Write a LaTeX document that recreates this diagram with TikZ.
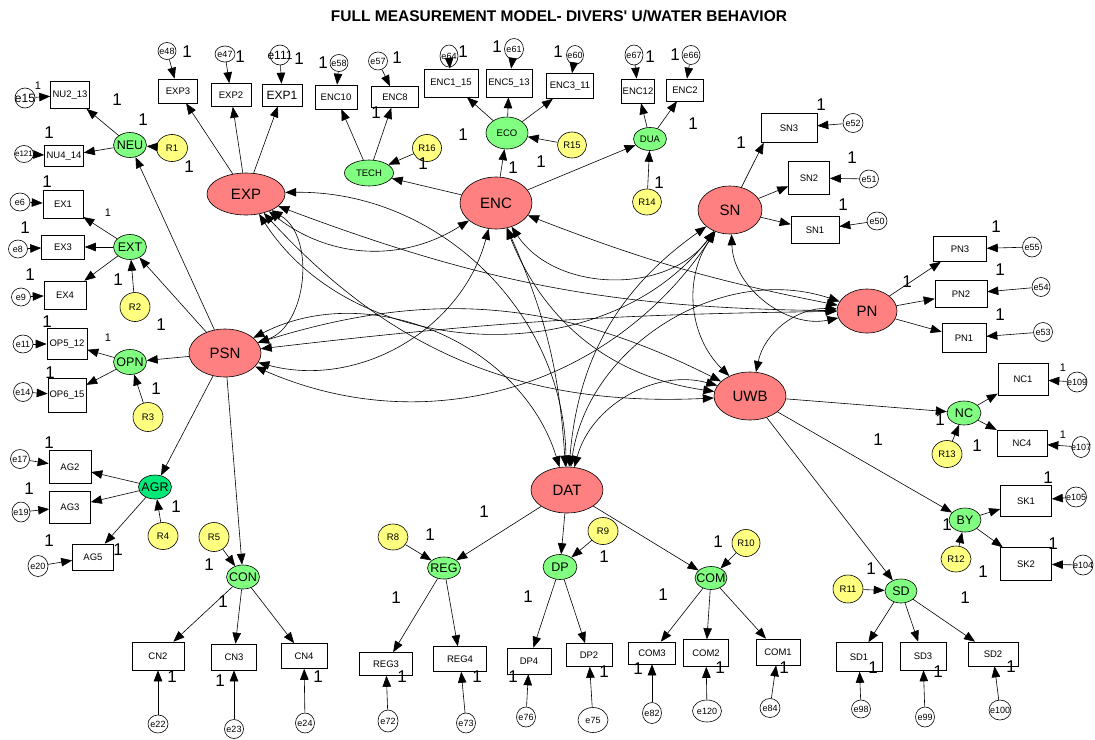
\documentclass[tikz,border=0pt]{standalone}
\usepackage{fontspec}
\setmainfont{Liberation Sans}
\usetikzlibrary{shapes.geometric,arrows.meta}
\definecolor{latc}{RGB}{255,128,128}
\definecolor{facc}{RGB}{128,255,128}
\definecolor{facd}{RGB}{0,232,120}
\definecolor{resc}{RGB}{255,255,128}
\newcommand\fz[1]{\fontsize{#1}{#1}\selectfont}
% shape node + centred text that never resizes the shape
\newcommand\nd[8]{%
  \node[#1,minimum width=#5pt,minimum height=#6pt] (#2) at (#3,-#4) {};
  \node[inner sep=0pt,#7] at (#2) {#8};}
\newcommand\fixone[2]{\node[one] at (#1,-#2) {1};}
\newcommand\fixones[2]{\node[ones] at (#1,-#2) {1};}
\tikzset{
  base/.style={draw,line width=0.6pt,inner sep=0pt},
  lat/.style={base,ellipse,fill=latc},
  fac/.style={base,ellipse,fill=facc},
  facd/.style={base,ellipse,fill=facd},
  res/.style={base,ellipse,fill=resc},
  err/.style={base,ellipse,fill=white},
  obs/.style={base,rectangle,fill=white},
  tlat/.style={font=\fz{15}},
  tfac/.style={font=\fz{12.5}},
  tfs/.style={font=\fz{9.5}},
  tres/.style={font=\fz{9.5}},
  terr/.style={font=\fz{9}},
  tobs/.style={font=\fz{9.5}},
  tbig/.style={font=\fz{12}},
  one/.style={inner sep=0pt,font=\fz{17}},
  ones/.style={inner sep=0pt,font=\fz{11}},
  tip/.tip={Triangle[length=11pt,width=8.5pt]},
  arr/.style={-tip,line width=0.6pt},
  cov/.style={tip-tip,line width=0.6pt},
}
\begin{document}
\begin{tikzpicture}[x=1pt,y=1pt]
\useasboundingbox (0,0) rectangle (1095,-739);
\node[font=\bfseries\fz{15.5}] (title) at (559,-16) {FULL MEASUREMENT MODEL- DIVERS\textquotesingle{} U/WATER BEHAVIOR};

% ---------- second-order constructs
\nd{lat}{EXP}{246}{194}{78}{42}{tlat}{EXP}
\nd{lat}{ENC}{496}{203}{72}{52}{tlat}{ENC}
\nd{lat}{SN}{730}{210}{64}{48}{tlat}{SN}
\nd{lat}{PN}{867}{311}{60}{44}{tlat}{PN}
\nd{lat}{PSN}{225}{353}{72}{48}{tlat}{PSN}
\nd{lat}{UWB}{750}{396}{72}{48}{tlat}{UWB}
\nd{lat}{DAT}{567}{490}{72}{46}{tlat}{DAT}

% ---------- first-order factors
\nd{fac}{NEU}{130}{145}{33}{25}{tfac}{NEU}
\nd{fac}{EXT}{130}{247}{33}{25}{tfac}{EXT}
\nd{fac}{OPN}{130}{362}{33}{25}{tfac}{OPN}
\nd{facd}{AGR}{155}{487}{33}{24}{tfac}{AGR}
\nd{fac}{CON}{243}{577}{33}{24}{tfac}{CON}
\nd{fac}{TECH}{369}{173}{49}{26}{tfs}{TECH}
\nd{fac}{ECO}{507}{133}{42}{32}{tfs}{ECO}
\nd{fac}{DUA}{650}{139}{33}{23}{tfs}{DUA}
\nd{fac}{NC}{964}{413}{34}{24}{tfac}{NC}
\nd{fac}{BY}{965}{520}{32}{24}{tfac}{BY}
\nd{fac}{SD}{901}{591}{32}{24}{tfac}{SD}
\nd{fac}{REG}{444}{568}{33}{22}{tfac}{REG}
\nd{fac}{DP}{560}{567}{34}{25}{tfac}{DP}
\nd{fac}{COM}{711}{578}{32}{23}{tfac}{COM}

% ---------- residuals
\nd{res}{R1}{172}{148}{31}{27}{tres}{R1}
\nd{res}{R2}{135}{307}{30}{29}{tres}{R2}
\nd{res}{R3}{148}{417}{30}{29}{tres}{R3}
\nd{res}{R4}{163}{536}{30}{27}{tres}{R4}
\nd{res}{R5}{214}{537}{30}{29}{tres}{R5}
\nd{res}{R16}{427}{148}{29}{27}{tres}{R16}
\nd{res}{R15}{572}{145}{29}{26}{tres}{R15}
\nd{res}{R14}{647}{202}{29}{26}{tres}{R14}
\nd{res}{R13}{947}{454}{30}{27}{tres}{R13}
\nd{res}{R12}{956}{559}{30}{26}{tres}{R12}
\nd{res}{R11}{848}{589}{30}{28}{tres}{R11}
\nd{res}{R8}{393}{537}{30}{26}{tres}{R8}
\nd{res}{R9}{603}{531}{30}{27}{tres}{R9}
\nd{res}{R10}{746}{543}{28}{27}{tres}{R10}

% ---------- observed items
\nd{obs}{NUa}{70}{95}{39}{27}{tobs}{NU2\_13}
\nd{obs}{NUb}{64}{156}{39}{21}{tobs}{NU4\_14}
\nd{obs}{EXa}{63}{204}{40}{28}{tobs}{EX1}
\nd{obs}{EXc}{63}{247}{43}{24}{tobs}{EX3}
\nd{obs}{EXd}{65}{295}{42}{28}{tobs}{EX4}
\nd{obs}{OPa}{67}{344}{40}{31}{tobs}{OP5\_12}
\nd{obs}{OPb}{67}{395}{38}{34}{tobs}{OP6\_15}
\nd{obs}{AGb}{70}{467}{42}{33}{tobs}{AG2}
\nd{obs}{AGc}{70}{507}{41}{32}{tobs}{AG3}
\nd{obs}{AGe}{93}{557}{41}{26}{tobs}{AG5}
\nd{obs}{CNb}{158}{656}{52}{28}{tobs}{CN2}
\nd{obs}{CNc}{234}{657}{45}{26}{tobs}{CN3}
\nd{obs}{CNd}{304}{656}{46}{25}{tobs}{CN4}
\nd{obs}{EXPc}{178}{91}{39}{24}{tobs}{EXP3}
\nd{obs}{EXPb}{231}{95}{40}{23}{tobs}{EXP2}
\nd{obs}{EXPa}{282}{95}{40}{22}{tbig}{EXP1}
\nd{obs}{ENCj}{336}{97}{42}{24}{tobs}{ENC10}
\nd{obs}{ENCh}{395}{97}{47}{21}{tobs}{ENC8}
\nd{obs}{ENCa}{451}{83}{54}{28}{tobs}{ENC1\_15}
\nd{obs}{ENCe}{509}{83}{46}{28}{tobs}{ENC5\_13}
\nd{obs}{ENCc}{570}{86}{47}{25}{tobs}{ENC3\_11}
\nd{obs}{ENCl}{638}{91}{33}{24}{tobs}{ENC12}
\nd{obs}{ENCb}{685}{90}{37}{22}{tobs}{ENC2}
\nd{obs}{SNc}{789}{128}{56}{29}{tobs}{SN3}
\nd{obs}{SNb}{809}{178}{41}{33}{tobs}{SN2}
\nd{obs}{SNa}{815}{230}{48}{27}{tobs}{SN1}
\nd{obs}{PNc}{960}{249}{53}{25}{tobs}{PN3}
\nd{obs}{PNb}{961}{294}{52}{27}{tobs}{PN2}
\nd{obs}{PNa}{964}{338}{44}{29}{tobs}{PN1}
\nd{obs}{NCa}{1023}{379}{50}{32}{tobs}{NC1}
\nd{obs}{NCd}{1022}{443}{50}{26}{tobs}{NC4}
\nd{obs}{SKa}{1026}{501}{51}{31}{tobs}{SK1}
\nd{obs}{SKb}{1026}{564}{51}{33}{tobs}{SK2}
\nd{obs}{SDa}{859}{657}{46}{29}{tobs}{SD1}
\nd{obs}{SDc}{923}{656}{46}{28}{tobs}{SD3}
\nd{obs}{SDb}{993}{654}{50}{24}{tobs}{SD2}
\nd{obs}{COMa}{778}{652}{44}{26}{tobs}{COM1}
\nd{obs}{COMb}{706}{653}{45}{27}{tobs}{COM2}
\nd{obs}{COMc}{652}{653}{47}{22}{tobs}{COM3}
\nd{obs}{DPb}{589}{655}{46}{23}{tobs}{DP2}
\nd{obs}{DPd}{529}{661}{44}{26}{tobs}{DP4}
\nd{obs}{REGd}{460}{659}{53}{25}{tobs}{REG4}
\nd{obs}{REGc}{386}{664}{53}{23}{tobs}{REG3}

% ---------- measurement errors
\nd{err}{e15}{25}{98}{20}{20}{tbig}{e15}
\nd{err}{e121}{24}{154}{19}{17}{font=\fz{8}}{e121}
\nd{err}{e6}{20}{202}{20}{18}{terr}{e6}
\nd{err}{e8}{18}{249}{19}{18}{terr}{e8}
\nd{err}{e9}{21}{297}{19}{18}{terr}{e9}
\nd{err}{e11}{23}{344}{20}{18}{terr}{e11}
\nd{err}{e14}{23}{392}{19}{19}{terr}{e14}
\nd{err}{e17}{20}{459}{19}{19}{terr}{e17}
\nd{err}{e19}{21}{512}{18}{20}{terr}{e19}
\nd{err}{e20}{38}{566}{20}{21}{terr}{e20}
\nd{err}{e22}{158}{724}{20}{18}{terr}{e22}
\nd{err}{e23}{234}{729}{19}{19}{terr}{e23}
\nd{err}{e24}{305}{723}{19}{20}{terr}{e24}
\nd{err}{e48}{167}{51}{18}{17}{terr}{e48}
\nd{err}{e47}{225}{54}{20}{16}{terr}{e47}
\nd{err}{e111}{280}{55}{20}{20}{tbig}{e111}
\nd{err}{e58}{339}{63}{18}{17}{terr}{e58}
\nd{err}{e57}{378}{61}{19}{18}{terr}{e57}
\nd{err}{e64}{449}{56}{18}{22}{terr}{e64}
\nd{err}{e61}{514}{49}{19}{21}{terr}{e61}
\nd{err}{e60}{575}{55}{17}{19}{terr}{e60}
\nd{err}{e67}{634}{55}{18}{20}{terr}{e67}
\nd{err}{e66}{691}{55}{18}{19}{terr}{e66}
\nd{err}{e52}{853}{123}{20}{19}{terr}{e52}
\nd{err}{e51}{869}{179}{19}{18}{terr}{e51}
\nd{err}{e50}{877}{221}{20}{18}{terr}{e50}
\nd{err}{e55}{1032}{247}{19}{20}{terr}{e55}
\nd{err}{e54}{1041}{287}{18}{19}{terr}{e54}
\nd{err}{e53}{1043}{332}{19}{19}{terr}{e53}
\nd{err}{e109}{1077}{382}{20}{20}{terr}{e109}
\nd{err}{e107}{1081}{447}{18}{21}{terr}{e107}
\nd{err}{e105}{1076}{497}{21}{20}{terr}{e105}
\nd{err}{e104}{1083}{565}{20}{20}{terr}{e104}
\nd{err}{e98}{861}{709}{19}{18}{terr}{e98}
\nd{err}{e99}{925}{717}{19}{20}{terr}{e99}
\nd{err}{e100}{1000}{710}{22}{20}{terr}{e100}
\nd{err}{e84}{770}{708}{20}{19}{terr}{e84}
\nd{err}{e120}{707}{711}{29}{22}{terr}{e120}
\nd{err}{e82}{652}{713}{19}{21}{terr}{e82}
\nd{err}{e75}{593}{720}{30}{25}{terr}{e75}
\nd{err}{e76}{526}{717}{19}{20}{terr}{e76}
\nd{err}{e73}{466}{723}{19}{20}{terr}{e73}
\nd{err}{e72}{388}{721}{20}{22}{terr}{e72}

% ---------- structural paths
\foreach \t in {NEU,EXT,OPN,AGR,CON} {\draw[arr] (PSN) -- (\t);}
\foreach \t in {TECH,ECO,DUA} {\draw[arr] (ENC) -- (\t);}
\foreach \t in {NC,BY,SD} {\draw[arr] (UWB) -- (\t);}
\foreach \t in {REG,DP,COM} {\draw[arr] (DAT) -- (\t);}

% ---------- loadings
\foreach \f/\t in {NEU/NUa,NEU/NUb,EXT/EXa,EXT/EXc,EXT/EXd,OPN/OPa,OPN/OPb,
  AGR/AGb,AGR/AGc,AGR/AGe,CON/CNb,CON/CNc,CON/CNd,EXP/EXPc,EXP/EXPb,EXP/EXPa,
  TECH/ENCj,TECH/ENCh,ECO/ENCa,ECO/ENCe,ECO/ENCc,DUA/ENCl,DUA/ENCb,
  SN/SNb,SN/SNa,PN/PNc,PN/PNb,PN/PNa,NC/NCa,NC/NCd,BY/SKa,BY/SKb,
  SD/SDa,SD/SDc,SD/SDb,REG/REGc,REG/REGd,DP/DPd,DP/DPb,COM/COMc,COM/COMb,COM/COMa}
  {\draw[arr] (\f) -- (\t);}
\draw[arr] (SN) -- ([xshift=3pt]SNc.south west);

% ---------- residual and error arrows
\foreach \f/\t in {R1/NEU,R2/EXT,R3/OPN,R4/AGR,R5/CON,R16/TECH,R15/ECO,R14/DUA,
  R13/NC,R12/BY,R11/SD,R8/REG,R9/DP,R10/COM,
  e15/NUa,e121/NUb,e6/EXa,e8/EXc,e9/EXd,e11/OPa,e14/OPb,e17/AGb,e19/AGc,e20/AGe,
  e22/CNb,e23/CNc,e24/CNd,e48/EXPc,e47/EXPb,e111/EXPa,e58/ENCj,e57/ENCh,
  e64/ENCa,e61/ENCe,e60/ENCc,e67/ENCl,e66/ENCb,e52/SNc,e51/SNb,e50/SNa,
  e55/PNc,e54/PNb,e53/PNa,e109/NCa,e107/NCd,e105/SKa,e104/SKb,
  e98/SDa,e99/SDc,e100/SDb,e84/COMa,e120/COMb,e82/COMc,e75/DPb,e76/DPd,
  e73/REGd,e72/REGc}
  {\draw[arr] (\f) -- (\t);}

% ---------- covariances among constructs
\draw[cov] (EXP) to[bend right=35] (ENC);
\draw[cov] (EXP) to[bend left=65] (PSN);
\draw[cov] (EXP) to[bend right=10] (PN);
\draw[cov] (EXP) to[bend right=25] (UWB);
\draw[cov] (EXP) to[bend left=45] (DAT);
\draw[cov] (EXP) to[bend right=55] (SN);
\draw[cov] (ENC) to[bend right=55] (SN);
\draw[cov] (ENC) to[bend right=5] (PN);
\draw[cov] (ENC) to[bend left=45] (PSN);
\draw[cov] (ENC) to[bend right=30] (UWB);
\draw[cov] (ENC) to[bend left=10] (DAT);
\draw[cov] (SN) to[bend right=50] (PN);
\draw[cov] (PSN) to[bend right=40] (SN);
\draw[cov] (SN) to[bend right=40] (UWB);
\draw[cov] (SN) to[bend right=25] (DAT);
\draw[cov] (PSN) to[bend left=3] (PN);
\draw[cov] (PN) to[bend right=40] (UWB);
\draw[cov] (DAT) to[bend left=50] (PN);
\draw[cov] (PSN) to[bend left=22] (UWB);
\draw[cov] (PSN) to[bend left=50] (DAT);
\draw[cov] (DAT) to[bend left=45] (UWB);

% ---------- fixed parameter labels
\foreach \x/\y in {117/100,49/133,143/120,189/167,47/182,25/228,30/275,118/280,
  161/325,47/322,50/373,156/389,49/443,29/489,49/541,118/550,176/507,209/565,
  223/602,172/677,220/681,318/677,187/52,240/57,299/59,323/63,397/58,376/113,
  463/52,497/47,558/52,650/57,675/55,463/135,513/168,541/162,423/164,693/124,
  659/183,741/143,821/105,852/158,843/205,907/282,996/227,1000/270,1000/315,
  940/420,977/446,878/440,1048/478,1053/544,947/525,983/572,871/569,965/598,
  873/668,938/672,1011/667,784/668,430/535,484/512,396/598,604/557,528/597,
  718/542,663/595,402/677,477/677,513/677,604/672,638/669,720/668}
  {\fixone{\x}{\y}}
\foreach \x/\y in {38/86,108/213,108/338,1063/368,1063/435}
  {\fixones{\x}{\y}}
\end{tikzpicture}
\end{document}
